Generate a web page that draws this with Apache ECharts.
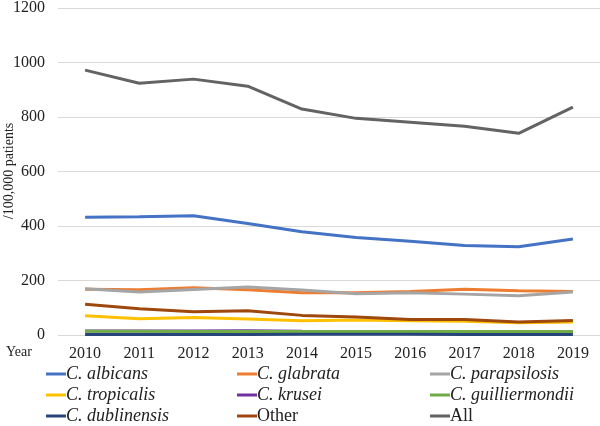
<!DOCTYPE html>
<html><head><meta charset="utf-8">
<script src="https://cdn.jsdelivr.net/npm/echarts@6/dist/echarts.min.js"></script>
<style>html,body{margin:0;padding:0;background:#fff}#c{width:600px;height:426px}</style>
</head><body><div id="c"></div>
<script>
const years = ['2010','2011','2012','2013','2014','2015','2016','2017','2018','2019'];
const albicans = [432, 434, 438, 409, 379, 358, 344, 328, 324, 352];
const glabrata = [168, 166, 173, 166, 155, 155, 160, 168, 162, 160];
const parapsilosis = [170, 158, 167, 176, 165, 151, 155, 150, 144, 158];
const tropicalis = [71, 60, 64, 59, 52, 55, 52, 50, 45, 48];
const krusei = [15, 15, 15, 16, 14, 13, 12, 12, 11, 12];
const guilliermondii = [14, 14, 13, 13, 13, 13, 13, 13, 13, 13];
const dublinensis = [2, 2, 2, 2, 3, 3, 3, 2, 2, 2];
const other = [113, 96, 85, 89, 72, 66, 57, 57, 48, 53];
const all = [972, 924, 939, 913, 829, 795, 781, 766, 740, 836];
const yTicks = [0, 200, 400, 600, 800, 1000, 1200];

const names = ['C. albicans','C. glabrata','C. parapsilosis','C. tropicalis','C. krusei','C. guilliermondii','C. dublinensis','Other','All'];
const values = [albicans, glabrata, parapsilosis, tropicalis, krusei, guilliermondii, dublinensis, other, all];
const colors = ['#4472C4','#ED7D31','#A5A5A5','#FFC000','#7030A0','#70AD47','#264478','#9E480E','#636363'];

const serif = 'Liberation Serif';
const legendCols = [[0,3,6],[1,4,7],[2,5,8]];
const legendLefts = [46, 237, 430];
const legends = legendCols.map((idx, k) => ({
  orient: 'vertical',
  left: legendLefts[k],
  top: 364,
  itemGap: 1,
  itemWidth: 20,
  itemHeight: 3,
  icon: 'rect',
  padding: 0,
  data: idx.map(i => ({
    name: names[i],
    textStyle: {fontFamily: serif, fontStyle: names[i].startsWith('C.') ? 'italic' : 'normal',
      fontSize: 18, color: '#222', lineHeight: 20}
  })),
  textStyle: {
    fontFamily: serif, fontSize: 18, color: '#222', lineHeight: 20,
    padding: [0,0,0,-5]
  }
}));

const chart = echarts.init(document.getElementById('c'), null, {renderer: 'canvas'});
chart.setOption({
  animation: false,
  color: colors,
  textStyle: {fontFamily: serif},
  grid: {left: 58, right: 0, top: 8, bottom: 91, containLabel: false, outerBoundsMode: 'none'},
  legend: legends,
  xAxis: {
    type: 'category',
    data: years,
    boundaryGap: true,
    axisLine: {show: false},
    axisTick: {show: false},
    axisLabel: {fontFamily: serif, fontSize: 16, color: '#222', margin: 11}
  },
  yAxis: {
    type: 'value',
    min: 0, max: 1200, interval: 200,
    axisLine: {show: false},
    axisTick: {show: false},
    splitLine: {lineStyle: {color: '#d9d9d9', width: 1}},
    axisLabel: {fontFamily: serif, fontSize: 16, color: '#222', margin: 13,
      formatter: v => yTicks.includes(v) ? String(v) : ''}
  },
  graphic: [
    {type: 'text', left: 6, top: 345, style: {text: 'Year', font: '14px ' + serif, fill: '#222'}},
    {type: 'text', x: 2, y: 171, rotation: Math.PI / 2,
      style: {text: '/100,000 patients', font: '14px ' + serif, fill: '#222', align: 'center', verticalAlign: 'top'}}
  ],
  series: names.map((n, i) => ({
    name: n,
    type: 'line',
    data: values[i],
    symbol: 'none',
    lineStyle: {width: 3, color: colors[i]},
    itemStyle: {color: colors[i]},
    z: 2 + i
  }))
});
</script></body></html>
